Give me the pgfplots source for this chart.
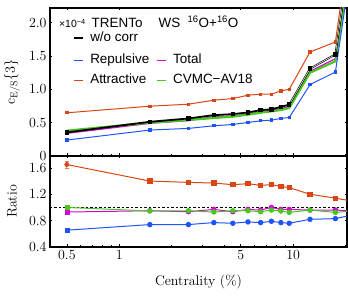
\documentclass[border=0pt]{standalone}
\usepackage{pgfplots}
\pgfplotsset{compat=1.18}
\usepackage{fontspec}
\newfontfamily\lsans{Liberation Sans}
\definecolor{cblue}{RGB}{30,85,250}
\definecolor{corange}{RGB}{215,70,20}
\definecolor{cmag}{RGB}{215,0,215}
\definecolor{cgreen}{RGB}{70,200,30}
\begin{document}
\begin{tikzpicture}
\path[use as bounding box] (0bp,0bp) rectangle (348bp,296bp);
\pgfplotsset{every axis/.append style={
  scale only axis, xmode=log, xmin=0.4, xmax=20.4, width=297bp,
  axis line style={line width=1.3pt},
  tick style={black, line width=0.6pt},
  major tick length=2.5bp, minor tick length=1.5bp, tick align=inside,
  xtick={0.5,1,5,10}, minor xtick={0.6,0.7,0.8,0.9,2,3,4,6,7,8,9,20},
  font=\fontsize{14}{16}\selectfont,
  tick label style={font=\fontsize{14}{16}\selectfont},
  label style={font=\fontsize{14}{16}\selectfont},
  clip=true,
}}
% ---------------- top panel
\begin{axis}[at={(50bp,140bp)}, anchor=south west, height=148bp,
  ymin=0, ymax=2.22, ytick={0,0.5,1,1.5,2}, yticklabels={0,0.5,1.0,1.5,2.0},
  xticklabels={},
  ylabel={$\mathrm{c}_{\mathrm{E/S}}\{3\}$},
  ylabel style={at={(axis description cs:-0.128,0.5)}, anchor=center},
  legend columns=2,
  legend cell align=left,
  legend style={draw=none, fill=none, at={(axis description cs:0.0774,0.856)}, anchor=north west,
    font=\lsans\fontsize{13.5}{15}\selectfont, row sep=8bp, inner sep=0pt,
    nodes={inner sep=0pt, text height=9bp, text depth=3bp},
    /tikz/every even column/.append style={column sep=6.7bp}},
  legend image code/.code={\draw[#1, line width=1.8pt] (0bp,0bp) -- (9bp,0bp); \path (16bp,0bp);},
]
\addplot[cmag, line width=1.2pt, forget plot] coordinates {(0.5,0.34) (1.5,0.49) (2.5,0.53) (3.5,0.59) (4.5,0.60) (5.5,0.63) (6.5,0.66) (7.5,0.69) (8.5,0.71) (9.5,0.74) (12.5,1.27) (17.5,1.46) (25,4.2)};
\addplot[cgreen, line width=2.2pt, forget plot] coordinates {(0.5,0.38) (1.5,0.50) (2.5,0.54) (3.5,0.57) (4.5,0.59) (5.5,0.62) (6.5,0.65) (7.5,0.67) (8.5,0.69) (9.5,0.72) (12.5,1.25) (17.5,1.42) (25,4.1)};
\addplot[cblue, line width=1pt, mark=square*, mark size=1.2pt, forget plot] coordinates {(0.5,0.239) (1.5,0.389) (2.5,0.414) (3.5,0.453) (4.5,0.473) (5.5,0.503) (6.5,0.528) (7.5,0.538) (8.5,0.563) (9.5,0.578) (12.5,1.07) (17.5,1.26) (25,4.0)};
\addplot[corange, line width=1pt, mark=square*, mark size=1.2pt, forget plot] coordinates {(0.5,0.648) (1.5,0.747) (2.5,0.777) (3.5,0.837) (4.5,0.862) (5.5,0.912) (6.5,0.927) (7.5,0.927) (8.5,0.977) (9.5,1.00) (12.5,1.56) (17.5,1.71) (25,4.6)};
\addplot[black, line width=1.8pt, mark=square*, mark size=1.3pt, forget plot] coordinates {(0.5,0.354) (1.5,0.513) (2.5,0.563) (3.5,0.613) (4.5,0.628) (5.5,0.653) (6.5,0.688) (7.5,0.700) (8.5,0.737) (9.5,0.770) (12.5,1.31) (17.5,1.525) (25,4.3)};
\addplot[white, line width=0.5pt, forget plot] coordinates {(9.5,0.770) (12.5,1.31) (17.5,1.525) (25,4.3)};
\addlegendimage{color=black}\addlegendentry{w/o corr}
\addlegendimage{empty legend}\addlegendentry[text depth=8bp]{}
\addlegendimage{color=cblue}\addlegendentry{Repulsive}
\addlegendimage{color=cmag}\addlegendentry{Total}
\addlegendimage{color=corange}\addlegendentry{Attractive}
\addlegendimage{color=cgreen}\addlegendentry{CVMC−AV18}
\node[anchor=base west, inner sep=0pt, text depth=0pt, font=\lsans\fontsize{13.5}{15}\selectfont] at (axis description cs:0.03,0.865)
  {{\fontsize{10.5}{11}\selectfont ×10\textsuperscript{−4}}\hspace{6bp}TRENTo\hspace{1.2em}WS\hspace{0.55em}\textsuperscript{16}O+\textsuperscript{16}O};
\end{axis}
% ---------------- bottom panel
\begin{axis}[at={(50bp,49bp)}, anchor=south west, height=91bp,
  ymin=0.4, ymax=1.78, ytick={0.4,0.8,1.2,1.6}, yticklabels={0.4,0.8,1.2,1.6},
  xticklabels={0.5,1,5,10},
  xlabel={Centrality (\%)}, ylabel={Ratio},
  ylabel style={at={(axis description cs:-0.128,0.5)}, anchor=center},
  xlabel style={at={(axis description cs:0.5,-0.38)}, anchor=center},
]
\addplot[black, dash pattern=on 2.5pt off 2pt, line width=1pt] coordinates {(0.4,1) (20.4,1)};
\addplot[cblue, line width=1pt, mark=*, mark size=2.2pt, mark indices={2,3,4,5,6,7,8,9,10,11,12,13}] coordinates {(0.5,0.655) (1.5,0.74) (2.5,0.74) (3.5,0.77) (4.5,0.76) (5.5,0.78) (6.5,0.77) (7.5,0.79) (8.5,0.77) (9.5,0.76) (12.5,0.82) (17.5,0.83) (25,0.92)};
\addplot[cblue, only marks, mark=square*, mark size=2.1pt] coordinates {(0.5,0.655)};
\addplot[cmag, line width=1pt, mark=*, mark size=2.2pt, mark indices={2,3,4,5,6,7,8,9,10,11,12,13}] coordinates {(0.5,0.93) (1.5,0.95) (2.5,0.935) (3.5,0.97) (4.5,0.935) (5.5,0.97) (6.5,0.96) (7.5,1.00) (8.5,0.97) (9.5,0.97) (12.5,0.96) (17.5,0.96) (25,0.94)};
\addplot[cmag, only marks, mark=square*, mark size=2.1pt] coordinates {(0.5,0.93)};
\addplot[cgreen, line width=1pt, mark=*, mark size=2.2pt, mark indices={2,3,4,5,6,7,8,9,10,11,12,13}] coordinates {(0.5,1.00) (1.5,0.946) (2.5,0.95) (3.5,0.93) (4.5,0.95) (5.5,0.95) (6.5,0.935) (7.5,0.96) (8.5,0.945) (9.5,0.925) (12.5,0.96) (17.5,0.925) (25,0.96)};
\addplot[cgreen, only marks, mark=square*, mark size=2.1pt] coordinates {(0.5,1.00)};
\addplot[corange, line width=1pt, mark=square*, mark size=2.2pt, mark indices={2,3,4,5,6,7,8,9,10,11,12,13},
  error bars/.cd, y dir=both, y explicit, error bar style={line width=0.8pt, corange!70}] coordinates {
  (0.5,1.65) +- (0,0.05) (1.5,1.40) +- (0,0.02) (2.5,1.38) +- (0,0.02) (3.5,1.37) +- (0,0.02) (4.5,1.345) +- (0,0.02) (5.5,1.36) +- (0,0.02) (6.5,1.335) +- (0,0.02) (7.5,1.345) +- (0,0.02) (8.5,1.32) +- (0,0.02) (9.5,1.30) +- (0,0.02) (12.5,1.20) +- (0,0.015) (17.5,1.14) +- (0,0.015) (25,1.07) +- (0,0.015)};
\addplot[corange, only marks, mark=*, mark size=2.2pt] coordinates {(0.5,1.65)};
\end{axis}
\end{tikzpicture}
\end{document}
